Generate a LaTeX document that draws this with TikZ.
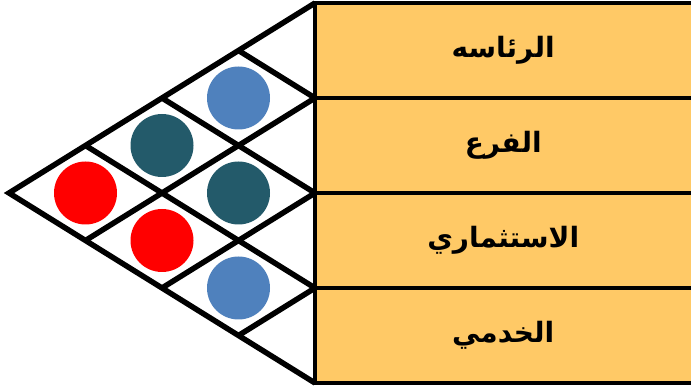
\documentclass[tikz,border=0pt]{standalone}
\usepackage{fontspec}
\newfontfamily\arabicfont[Script=Arabic]{DejaVu Sans}
\TeXXeTstate=1
\definecolor{rowfill}{HTML}{FFC966}
\definecolor{tokblue}{HTML}{4F81BD}
\definecolor{tokteal}{HTML}{235A6A}
\definecolor{tokred}{HTML}{FF0000}

\begin{document}
\begin{tikzpicture}[x=1pt,y=1pt,
    grid/.style={line width=5.5pt,black},
    frame/.style={line width=4.5pt,black,line cap=rect},
    rowbox/.style={fill=rowfill,minimum width=376pt,minimum height=95pt,
      anchor=north west,inner sep=0pt,
      font=\arabicfont\bfseries\fontsize{28}{32}\selectfont},
    token/.style={circle,minimum size=63pt,inner sep=0pt}]
  \useasboundingbox (0,0) rectangle (691,391);
  \foreach \k in {0,...,4}
    \coordinate (R\k) at (315,{388-95*\k});
  \coordinate (apex) at (9,198);

  % levels
  \node[rowbox] (chair) at (R0) {\beginR الرئاسه\endR};
  \node[rowbox] (branch) at (R1) {\beginR الفرع\endR};
  \node[rowbox] (invest) at (R2) {\beginR الاستثماري\endR};
  \node[rowbox] (service) at (R3) {\beginR الخدمي\endR};
  \foreach \k in {0,...,4}
    \draw[frame] (R\k) -- ++(390,0);
  \draw[frame] (R0) -- (R4);

  % tokens in the cells
  \foreach \a/\b/\c in {0/1/tokblue,0/2/tokteal,0/3/tokred,
                        1/2/tokteal,1/3/tokred,2/3/tokblue}
    \node[token,fill=\c] (t\a\b) at ({315-(\b-\a)*76.5},{388-95*\a-47.5-(\b-\a)*47.5}) {};

  % triangle lattice
  \draw[grid,line join=miter] (R0) -- (apex) -- (R4);
  \foreach \k in {1,...,3} {
    \draw[grid] (R\k) -- ++({-(4-\k)*76.5},{-(4-\k)*47.5});
    \draw[grid] (R\k) -- ++({-\k*76.5},{\k*47.5});
  }
\end{tikzpicture}
\end{document}
